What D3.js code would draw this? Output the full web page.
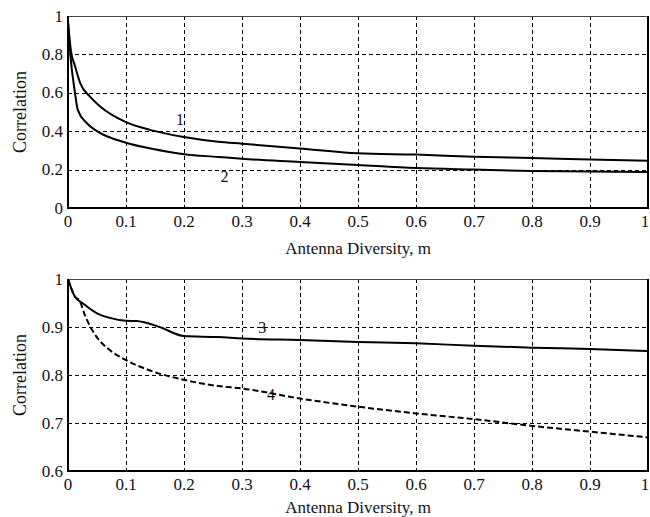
<!DOCTYPE html>
<html>
<head>
<meta charset="utf-8">
<script src="https://d3js.org/d3.v7.min.js"></script>
<style>
  body { margin: 0; background: #fff; }
  .grid line { stroke: #000; stroke-width: 1; stroke-dasharray: 4,3; shape-rendering: crispEdges; }
  .curve { fill: none; stroke: #000; stroke-width: 2; }
</style>
</head>
<body>
<svg id="chart" width="650" height="517"></svg>
<script>
// ---- data ----
const xTicks = [0, 0.1, 0.2, 0.3, 0.4, 0.5, 0.6, 0.7, 0.8, 0.9, 1];

// top panel
const topYTicks = [0, 0.2, 0.4, 0.6, 0.8, 1];
const curve1X = [0, 0.005, 0.012, 0.021, 0.038, 0.055, 0.1, 0.141, 0.2, 0.259, 0.3, 0.4, 0.5, 0.6, 0.7, 0.8, 0.9, 1.0];
const curve1Y = [0.97, 0.82, 0.74, 0.65, 0.58, 0.53, 0.447, 0.407, 0.37, 0.345, 0.335, 0.31, 0.285, 0.278, 0.267, 0.26, 0.252, 0.246];
const curve2X = [0, 0.004, 0.012, 0.017, 0.033, 0.05, 0.1, 0.147, 0.2, 0.259, 0.3, 0.4, 0.5, 0.6, 0.7, 0.8, 0.9, 1.0];
const curve2Y = [0.97, 0.8, 0.6, 0.51, 0.44, 0.4, 0.34, 0.307, 0.28, 0.266, 0.256, 0.24, 0.224, 0.208, 0.2, 0.193, 0.19, 0.188];

// bottom panel
const bottomYTicks = [0.6, 0.7, 0.8, 0.9, 1];
const curve3X = [0, 0.012, 0.026, 0.05, 0.072, 0.1, 0.118, 0.158, 0.2, 0.259, 0.3, 0.4, 0.5, 0.6, 0.7, 0.8, 0.9, 1.0];
const curve3Y = [1.0, 0.963, 0.949, 0.9285, 0.919, 0.913, 0.9125, 0.9, 0.881, 0.879, 0.876, 0.873, 0.869, 0.866, 0.861, 0.857, 0.854, 0.85];
const curve4X = [0, 0.012, 0.02, 0.029, 0.049, 0.072, 0.1, 0.14, 0.2, 0.259, 0.3, 0.4, 0.5, 0.6, 0.7, 0.8, 0.9, 1.0];
const curve4Y = [1.0, 0.963, 0.955, 0.925, 0.88, 0.852, 0.831, 0.81, 0.79, 0.777, 0.772, 0.751, 0.734, 0.72, 0.708, 0.694, 0.682, 0.67];

const svg = d3.select('#chart');
const left = 68, right = 648;
const FONT = "'Liberation Serif', 'DejaVu Serif', serif";

// helper so every text gets the serif face inline
function label(g, size) {
  return g.append('text')
    .style('font-family', FONT)
    .style('font-size', size + 'px')
    .attr('fill', '#111')
    .attr('dominant-baseline', 'central');
}

// one panel = frame, dashed grid, tick labels, titles and curves
function drawPanel(opts) {
  const x = d3.scaleLinear().domain([0, 1]).range([left, right]);
  const y = d3.scaleLinear().domain(opts.yDomain).range([opts.bottom, opts.top]);
  const g = svg.append('g');

  // dashed grid (inner lines only)
  const grid = g.append('g').attr('class', 'grid');
  grid.selectAll('.vx').data(xTicks.slice(1, -1)).join('line')
    .attr('x1', d => Math.round(x(d)) + 0.5).attr('x2', d => Math.round(x(d)) + 0.5)
    .attr('y1', opts.top).attr('y2', opts.bottom);
  grid.selectAll('.hy').data(opts.yTicks.slice(1, -1)).join('line')
    .attr('y1', d => Math.round(y(d)) + 0.5).attr('y2', d => Math.round(y(d)) + 0.5)
    .attr('x1', left).attr('x2', right);

  // curves
  const line = d3.line().x(d => x(d[0])).y(d => y(d[1])).curve(d3.curveMonotoneX);
  opts.curves.forEach(c => {
    const pts = c.xs.map((v, i) => [v, c.ys[i]]);
    g.append('path').attr('class', 'curve').attr('d', line(pts))
      .attr('stroke-dasharray', c.dashed ? '6,3' : null);
    label(g, 16).attr('x', x(c.labelAt[0])).attr('y', y(c.labelAt[1]))
      .attr('text-anchor', 'middle').text(c.name);
  });

  // frame: thin top, heavier left/bottom/right
  g.append('line').attr('x1', left).attr('x2', right).attr('y1', opts.top + 0.5).attr('y2', opts.top + 0.5)
    .attr('stroke', '#444').attr('stroke-width', 1);
  g.append('line').attr('x1', left).attr('x2', left).attr('y1', opts.top).attr('y2', opts.bottom + 1)
    .attr('stroke', '#000').attr('stroke-width', 2);
  g.append('line').attr('x1', right).attr('x2', right).attr('y1', opts.top).attr('y2', opts.bottom + 1)
    .attr('stroke', '#000').attr('stroke-width', 2);
  g.append('line').attr('x1', left - 1).attr('x2', right + 1).attr('y1', opts.bottom).attr('y2', opts.bottom)
    .attr('stroke', '#000').attr('stroke-width', 2);

  // tick labels (the last one "1" is nudged in so it stays inside the page)
  xTicks.forEach(d => {
    label(g, 17).attr('x', d === 1 ? x(d) - 3 : x(d)).attr('y', opts.bottom + 13)
      .attr('text-anchor', 'middle').text(d3.format('~g')(d));
  });
  opts.yTicks.forEach(d => {
    label(g, 17).attr('x', left - 5).attr('y', y(d))
      .attr('text-anchor', 'end').text(d3.format('~g')(d));
  });

  // axis titles
  label(g, 17).attr('x', (left + right) / 2).attr('y', opts.bottom + opts.titleGap)
    .attr('text-anchor', 'middle').text('Antenna Diversity, m');
  label(g, 18).attr('transform', `translate(20,${(opts.top + opts.bottom) / 2}) rotate(-90)`)
    .attr('text-anchor', 'middle').text('Correlation');
}

drawPanel({
  top: 16, bottom: 208, yDomain: [0, 1], yTicks: topYTicks, titleGap: 40,
  curves: [
    { name: '1', xs: curve1X, ys: curve1Y, labelAt: [0.193, 0.46] },
    { name: '2', xs: curve2X, ys: curve2Y, labelAt: [0.27, 0.165] }
  ]
});

drawPanel({
  top: 279, bottom: 471, yDomain: [0.6, 1], yTicks: bottomYTicks, titleGap: 36,
  curves: [
    { name: '3', xs: curve3X, ys: curve3Y, labelAt: [0.335, 0.9] },
    { name: '4', xs: curve4X, ys: curve4Y, labelAt: [0.35, 0.76], dashed: true }
  ]
});
</script>
</body>
</html>
